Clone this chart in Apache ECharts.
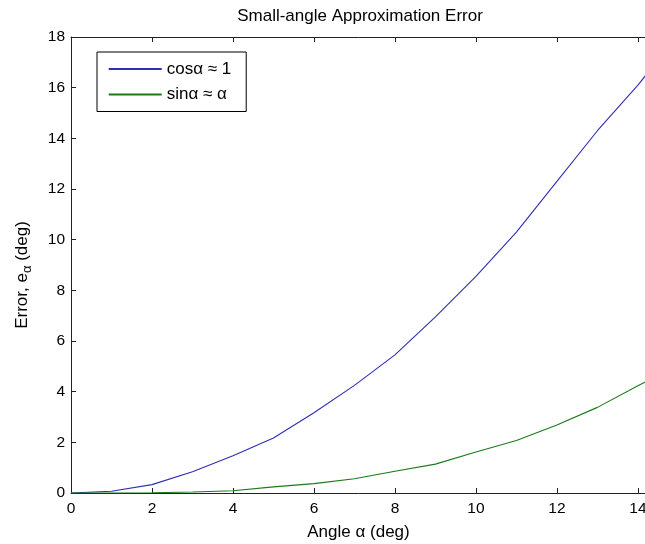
<!DOCTYPE html>
<html>
<head>
<meta charset="utf-8">
<script src="https://cdn.jsdelivr.net/npm/echarts@6/dist/echarts.min.js"></script>
<style>
html,body{margin:0;padding:0;background:#fff;}
#chart{width:645px;height:544px;}
</style>
</head>
<body>
<div id="chart"></div>
<script>
// Data
var angles = [0, 1, 2, 3, 4, 5, 6, 7, 8, 9, 10, 11, 12, 13, 14, 14.2];
var cosErr = [0, 0.07, 0.33, 0.84, 1.47, 2.17, 3.17, 4.25, 5.45, 6.95, 8.55, 10.3, 12.3, 14.3, 16.1, 16.5];
var sinErr = [0, 0, 0.01, 0.04, 0.09, 0.24, 0.37, 0.56, 0.86, 1.14, 1.62, 2.07, 2.68, 3.38, 4.23, 4.4];
var seriesNames = ['cosα ≈ 1', 'sinα ≈ α'];
var titleText = 'Small-angle Approximation Error';
var xName = 'Angle α (deg)';
var yName = '{n|Error, e}{s|α}{n| (deg)}';

function pairs(xs, ys) { return xs.map(function (x, i) { return [x, ys[i]]; }); }

var FONT = "'Liberation Sans', Arial, sans-serif";
var AXC = '#222';
var chart = echarts.init(document.getElementById('chart'), null, {renderer: 'canvas'});
chart.setOption({
  animation: false,
  backgroundColor: '#fff',
  textStyle: {fontFamily: FONT},
  title: {
    text: titleText, left: 360, textAlign: 'center', top: 8, padding: 0,
    textStyle: {fontSize: 17, fontWeight: 'normal', color: '#000', fontFamily: FONT}
  },
  grid: {left: 71, right: -1, top: 37, bottom: 51, containLabel: false, outerBoundsMode: 'none'},
  legend: {
    orient: 'vertical', left: 97, top: 52,
    padding: [7, 15, 7, 10.7],
    itemWidth: 53, itemHeight: 20, itemGap: 5.5,
    backgroundColor: '#fff', borderColor: '#000', borderWidth: 1, borderRadius: 0,
    itemStyle: {color: 'rgba(0,0,0,0)', borderWidth: 0, opacity: 0},
    textStyle: {fontSize: 17, color: '#000', lineHeight: 20, fontFamily: FONT},
    data: seriesNames
  },
  xAxis: [{
    type: 'value', min: 0, max: 14.2, interval: 2, position: 'bottom',
    name: xName, nameLocation: 'middle', nameGap: 23,
    nameTextStyle: {fontSize: 17, color: '#000', fontFamily: FONT, lineHeight: 20},
    axisLine: {show: true, onZero: false, lineStyle: {color: AXC, width: 1}},
    axisTick: {show: true, inside: true, length: 5, lineStyle: {color: AXC}},
    axisLabel: {fontSize: 15.5, color: '#000', margin: 8, showMaxLabel: false, fontFamily: FONT},
    splitLine: {show: false}
  }, {
    type: 'value', min: 0, max: 14.2, interval: 2, position: 'top',
    axisLine: {show: true, onZero: false, lineStyle: {color: AXC, width: 1}},
    axisTick: {show: true, inside: true, length: 5, lineStyle: {color: AXC}},
    axisLabel: {show: false},
    splitLine: {show: false}
  }],
  yAxis: [{
    type: 'value', min: 0, max: 18, interval: 2, position: 'left',
    name: yName, nameLocation: 'middle', nameRotate: 90, nameGap: 37,
    nameTextStyle: {
      fontSize: 17, color: '#000', fontFamily: FONT, padding: [0, 20, 0, 0],
      rich: {
        n: {fontSize: 17, color: '#000', fontFamily: FONT, verticalAlign: 'top', lineHeight: 20},
        s: {fontSize: 13, color: '#000', fontFamily: FONT, verticalAlign: 'bottom', lineHeight: 13, padding: [13, 0, 0, 0]}
      }
    },
    axisLine: {show: true, onZero: false, lineStyle: {color: AXC, width: 1}},
    axisTick: {show: true, inside: true, length: 5, lineStyle: {color: AXC}},
    axisLabel: {fontSize: 15.5, color: '#000', margin: 6, fontFamily: FONT},
    splitLine: {show: false}
  }],
  series: [{
    name: seriesNames[0], type: 'line', xAxisIndex: 0, yAxisIndex: 0,
    data: pairs(angles, cosErr), symbol: 'none', smooth: false,
    lineStyle: {color: '#2e2eb4', width: 1.1}, itemStyle: {color: '#2e2eb4'}
  }, {
    name: seriesNames[1], type: 'line', xAxisIndex: 0, yAxisIndex: 0,
    data: pairs(angles, sinErr), symbol: 'none', smooth: false,
    lineStyle: {color: '#1a7a1a', width: 1.1}, itemStyle: {color: '#1a7a1a'}
  }]
});
</script>
</body>
</html>
